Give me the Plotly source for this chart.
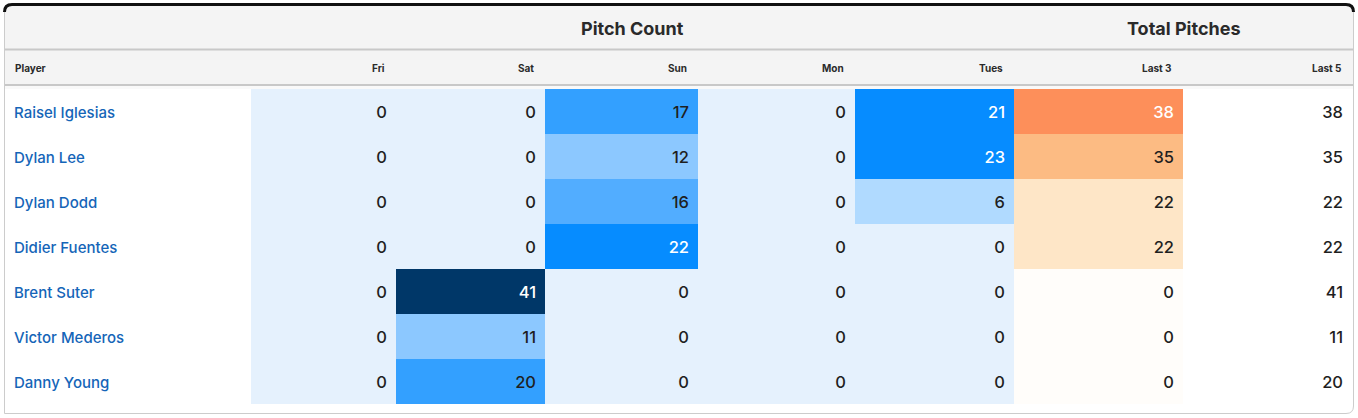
import plotly.graph_objects as go

# table data
players = ["Raisel Iglesias", "Dylan Lee", "Dylan Dodd", "Didier Fuentes",
           "Brent Suter", "Victor Mederos", "Danny Young"]
days = ["Fri", "Sat", "Sun", "Mon", "Tues"]
fri = [0, 0, 0, 0, 0, 0, 0]
sat = [0, 0, 0, 0, 41, 11, 20]
sun = [17, 12, 16, 22, 0, 0, 0]
mon = [0, 0, 0, 0, 0, 0, 0]
tues = [21, 23, 6, 0, 0, 0, 0]
last3 = [38, 35, 22, 22, 0, 0, 0]
last5 = [38, 35, 22, 22, 41, 11, 20]
total_labels = ["Last 3", "Last 5"]

W, H = 1358, 418
col_edges = [4, 251, 396, 545, 698, 855, 1014, 1183, 1352]
row_top, row_h = 89, 45
row_edges = [row_top + row_h * i for i in range(len(players) + 1)]
# text sits a touch below the geometric middle to look centred
row_txt = [row_top + row_h * (i + 0.5) + 2.5 for i in range(len(players))]
FONT = "Inter"


def stepscale(bins, colors, zmax):
    # binned colorscale: bins are upper bounds of each colour band
    cs = []
    lo = 0
    for hi, c in zip(bins, colors):
        cs.append([lo / zmax, c])
        cs.append([min(hi, zmax) / zmax, c])
        lo = min(hi, zmax)
    return cs


ZMAX = 41
blue_bins = [3, 9, 14, 16.5, 20.5, 30, 41]
blue_cols = ["#e5f1fd", "#b0daff", "#8cc8ff", "#52adff", "#33a0ff", "#068cff", "#003768"]
orange_bins = [10, 30, 36.5, 41]
orange_cols = ["#fffdfa", "#fee6c7", "#fcbb83", "#fd8f5a"]

day_cols = [fri, sat, sun, mon, tues]
z_days = [[col[r] for col in day_cols] for r in range(len(players))]

fig = go.Figure()
fig.add_trace(go.Heatmap(x=col_edges[1:7], y=row_edges, z=z_days, zmin=0, zmax=ZMAX,
                         colorscale=stepscale(blue_bins, blue_cols, ZMAX),
                         showscale=False, hoverinfo="skip"))
fig.add_trace(go.Heatmap(x=col_edges[6:8], y=row_edges, z=[[v] for v in last3], zmin=0, zmax=ZMAX,
                         colorscale=stepscale(orange_bins, orange_cols, ZMAX),
                         showscale=False, hoverinfo="skip"))

# numbers, right aligned in each column
pad = 9
for i, col in enumerate(day_cols + [last3, last5]):
    if i < 5:
        dark = [v > 20.5 for v in col]
    elif i == 5:
        dark = [v > 36.5 for v in col]
    else:
        dark = [False for v in col]
    fig.add_trace(go.Scatter(
        x=[col_edges[i + 2] - pad] * len(col), y=row_txt, mode="text",
        text=[str(v) for v in col], textposition="middle left",
        textfont=dict(family=FONT, size=16.5, weight=500,
                      color=["white" if d else "#1f1f1f" for d in dark]),
        hoverinfo="skip", showlegend=False))

fig.add_trace(go.Scatter(
    x=[14] * len(players), y=row_txt, mode="text", text=players,
    textposition="middle right", textfont=dict(family=FONT, size=15, weight=500, color="#1565b8"),
    hoverinfo="skip", showlegend=False))

# header
shapes = [
    dict(type="rect", x0=4, x1=1354, y0=5, y1=85, fillcolor="#f4f4f4", line_width=0, layer="below"),
    dict(type="rect", x0=4, x1=1354, y0=86, y1=89, fillcolor="#f9f9f9", line_width=0, layer="below"),
    dict(type="line", x0=4, x1=1354, y0=49.5, y1=49.5, line=dict(color="#c8c8c8", width=2)),
    dict(type="line", x0=4, x1=1354, y0=85, y1=85, line=dict(color="#c8c8c8", width=2)),
    dict(type="path", path="M 4.5,413.5 L 4.5,12 Q 4.5,4.5 12,4.5 L 1346,4.5 Q 1353.5,4.5 1353.5,12 L 1353.5,406 Q 1353.5,413.5 1346,413.5 Z",
         line=dict(color="#cccccc", width=1)),
    dict(type="path", path="M 4.5,12 Q 4.5,4.5 12,4.5 L 1346,4.5 Q 1353.5,4.5 1353.5,12",
         line=dict(color="#111111", width=3)),
]

annotations = [
    dict(x=(col_edges[1] + col_edges[6]) / 2, y=28, text="<b>Pitch Count</b>", showarrow=False,
         xanchor="center", yanchor="middle", font=dict(family=FONT, size=18, color="#2a2a2a")),
    dict(x=(col_edges[6] + col_edges[8]) / 2, y=28, text="<b>Total Pitches</b>", showarrow=False,
         xanchor="center", yanchor="middle", font=dict(family=FONT, size=18, color="#2a2a2a")),
    dict(x=13, y=68, text="<b>Player</b>", showarrow=False, xanchor="left", yanchor="middle",
         font=dict(family=FONT, size=10, color="#2a2a2a")),
]
for i, lab in enumerate(days + total_labels):
    annotations.append(dict(x=col_edges[i + 2] - pad, y=68, text="<b>" + lab + "</b>", showarrow=False,
                            xanchor="right", yanchor="middle",
                            font=dict(family=FONT, size=10, color="#2a2a2a")))

fig.update_layout(
    width=W, height=H, margin=dict(l=0, r=0, t=0, b=0),
    paper_bgcolor="white", plot_bgcolor="white",
    xaxis=dict(range=[0, W], visible=False, fixedrange=True),
    yaxis=dict(range=[H, 0], visible=False, fixedrange=True),
    shapes=shapes, annotations=annotations, showlegend=False,
)

fig.write_html("out.html", config={"displayModeBar": False},
               post_script="document.body.style.margin='0';")
